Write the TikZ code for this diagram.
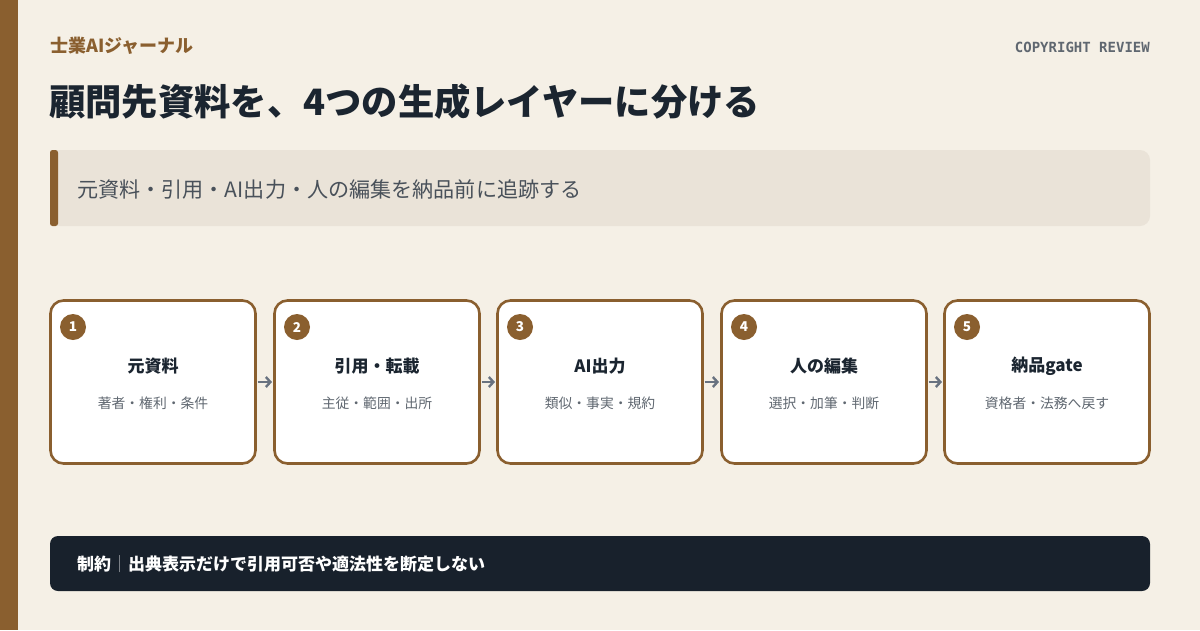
\documentclass[tikz,border=0pt]{standalone}
\usepackage{fontspec}
\setmainfont{Noto Sans CJK JP}
\newfontfamily\jp{Noto Sans CJK JP}
\newfontfamily\monof{DejaVu Sans Mono}
\usetikzlibrary{arrows.meta}
\definecolor{bg}{HTML}{F5F0E6}
\definecolor{brown}{HTML}{8A5F2F}
\definecolor{ink}{HTML}{1B2530}
\definecolor{muted}{HTML}{5F6770}
\definecolor{panel}{HTML}{EAE3D8}
\definecolor{dark}{HTML}{18212C}
\definecolor{arrowc}{HTML}{687280}
\tikzset{
  card/.style={draw=brown, line width=2.6pt, fill=white, rounded corners=13pt, minimum width=205pt, minimum height=163pt, anchor=north west, inner sep=0pt, outer sep=0pt},
  badge/.style={circle, fill=brown, minimum size=26pt, inner sep=0pt, text=white, font=\jp\bfseries\fontsize{13.5}{14}\selectfont},
  ctitle/.style={font=\jp\bfseries\fontsize{17}{19}\selectfont, text=ink, inner sep=0pt},
  csub/.style={font=\jp\fontsize{13.8}{15}\selectfont, text=muted, inner sep=0pt},
  flow/.style={draw=arrowc, line width=2.6pt, -{Straight Barb[length=4.5pt,width=10pt,line width=2.4pt]}}
}
\begin{document}
\begin{tikzpicture}[x=1pt,y=-1pt]
\useasboundingbox (0,0) rectangle (1200,630);
\fill[bg] (0,0) rectangle (1200,630);
\fill[brown] (0,0) rectangle (18,630);
\node[anchor=west, inner sep=0pt, text=brown, font=\jp\bfseries\fontsize{18}{20}\selectfont] (brand) at (50,46) {士業AIジャーナル};
\node[anchor=east, inner sep=0pt, text=muted, font=\monof\bfseries\fontsize{14}{16}\selectfont] (tag) at (1150,47) {COPYRIGHT REVIEW};
\node[anchor=west, inner sep=0pt, text=ink, font=\jp\bfseries\fontsize{36.3}{40}\selectfont] (title) at (49,102) {顧問先資料を、4つの生成レイヤーに分ける};
\fill[panel, rounded corners=10pt] (50,150) rectangle (1150,226);
\fill[brown, rounded corners=2.5pt] (50,150) rectangle (58,226);
\node[anchor=west, inner sep=0pt, text=ink!80, font=\jp\fontsize{21.1}{23}\selectfont] (sub) at (77,189) {元資料・引用・AI出力・人の編集を納品前に追跡する};
\foreach \i/\x/\t/\s in {1/50/元資料/著者・権利・条件, 2/274/引用・転載/主従・範囲・出所, 3/497/AI出力/類似・事実・規約, 4/721/人の編集/選択・加筆・判断, 5/944/納品gate/資格者・法務へ戻す}{
  \node[card] (c\i) at (\x+0.5,300.5) {};
  \node[badge] (b\i) at (\x+23,327) {\i};
  \node[ctitle] (t\i) at (\x+103,366) {\t};
  \node[csub] (s\i) at (\x+103,403) {\s};
}
\foreach \a/\b in {1/2,2/3,3/4,4/5}{
  \draw[flow] ([xshift=2pt]c\a.east) -- ([xshift=-2.5pt]c\b.west);
}
\fill[dark, rounded corners=8pt] (50,536) rectangle (1150,591);
\node[anchor=west, inner sep=0pt, text=white, font=\jp\bfseries\fontsize{17}{19}\selectfont] (note) at (77,564) {制約\textcolor{white!60!dark}{\jp\mdseries｜}出典表示だけで引用可否や適法性を断定しない};
\end{tikzpicture}
\end{document}
